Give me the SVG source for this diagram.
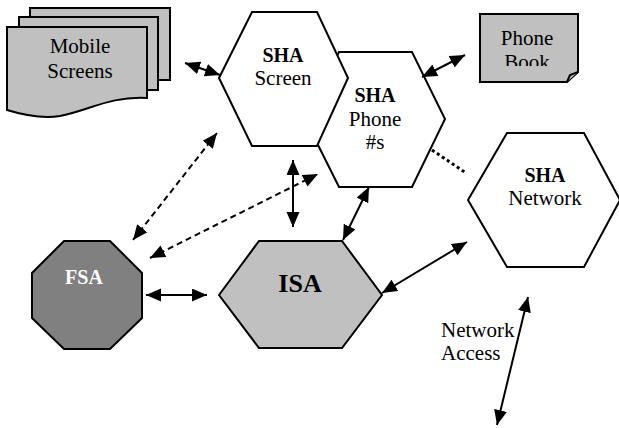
<svg xmlns="http://www.w3.org/2000/svg" width="619" height="428" viewBox="0 0 619 428">
<style>
  .shape { stroke: #000; stroke-width: 2; stroke-linejoin: miter; }
  .white { fill: #fff; }
  .grey { fill: #c0c0c0; }
  .dark { fill: #808080; }
  text { font-family: "Liberation Serif", "Times New Roman", serif; font-size: 21px; fill: #000; text-anchor: middle; }
  .b { font-weight: bold; font-size: 20px; }
  .conn { stroke: #000; stroke-width: 2; fill: none; }
  .arrow { marker-start: url(#ah); marker-end: url(#ah); }
  .dash { stroke-dasharray: 6 4; }
  .dot { stroke-width: 3; stroke-dasharray: 3 3; }
</style>
<defs>
  <marker id="ah" markerUnits="userSpaceOnUse" markerWidth="16" markerHeight="14" refX="15" refY="6.5" orient="auto-start-reverse">
    <path d="M0,0 L15,6.5 L0,13 z" fill="#000"/>
  </marker>
  <clipPath id="pbclip"><rect x="480" y="14" width="98" height="52"/></clipPath>
</defs>
<rect width="619" height="428" fill="#fff"/>

<g id="mobile-screens">
  <path class="shape grey" d="M30,8 H170 V80 H30 Z"/>
  <path class="shape grey" d="M19,17 H158 V90 H19 Z"/>
  <path class="shape grey" d="M7,27 H147 V98 C110,96 90,110 60,116 C40,119 20,114 7,110 Z"/>
  <text x="80" y="53">Mobile</text>
  <text x="80" y="78">Screens</text>
</g>

<g id="sha-phone">
  <polygon class="shape white" points="305,119 339,52 412,52 445,119 412,187 339,187"/>
  <text class="b" x="375" y="102">SHA</text>
  <text x="375" y="126">Phone</text>
  <text x="375" y="149">#s</text>
</g>

<g id="sha-screen">
  <polygon class="shape white" points="219,78 252,12 317,12 348,78 317,146 252,146"/>
  <text class="b" x="283" y="62">SHA</text>
  <text x="283" y="85">Screen</text>
</g>

<g id="phone-book">
  <path class="shape grey" d="M480,14 H578 V72 L567,82 H480 Z"/>
  <path class="shape grey" d="M567,82 L570,75 L578,72" stroke-width="1.5"/>
  <g clip-path="url(#pbclip)">
    <text x="527" y="45">Phone</text>
    <text x="527" y="69">Book</text>
  </g>
</g>

<g id="sha-network">
  <polygon class="shape white" points="468,200 507,133 584,133 620,200 584,267 507,267"/>
  <text class="b" x="545" y="182">SHA</text>
  <text x="545" y="205">Network</text>
</g>

<g id="fsa">
  <polygon class="shape dark" points="64,241 110,241 142,273 142,318 110,349 64,349 32,318 32,273"/>
  <text class="b" x="84" y="284" style="fill:#fff">FSA</text>
</g>

<g id="isa">
  <polygon class="shape grey" points="219,295 259,241 342,241 382,295 342,348 259,348"/>
  <text class="b" x="300" y="292" style="font-size:26px">ISA</text>
</g>

<g id="network-access-label">
  <text x="441" y="337" style="text-anchor:start">Network</text>
  <text x="441" y="360" style="text-anchor:start">Access</text>
</g>

<g id="connectors">
  <line class="conn arrow" x1="185" y1="63" x2="220" y2="75"/>
  <line class="conn arrow dash" x1="217" y1="133" x2="133" y2="240"/>
  <line class="conn arrow dash" x1="150" y1="258" x2="318" y2="174"/>
  <line class="conn arrow" x1="293" y1="160" x2="293" y2="227"/>
  <line class="conn arrow" x1="369" y1="187" x2="343" y2="240"/>
  <line class="conn arrow" x1="146" y1="295" x2="207" y2="295"/>
  <line class="conn arrow" x1="382" y1="293" x2="467" y2="242"/>
  <line class="conn arrow" x1="422" y1="77" x2="465" y2="55"/>
  <line class="conn dot" x1="432" y1="150" x2="466" y2="173"/>
  <line class="conn arrow" x1="528" y1="297" x2="497" y2="425"/>
</g>
</svg>
